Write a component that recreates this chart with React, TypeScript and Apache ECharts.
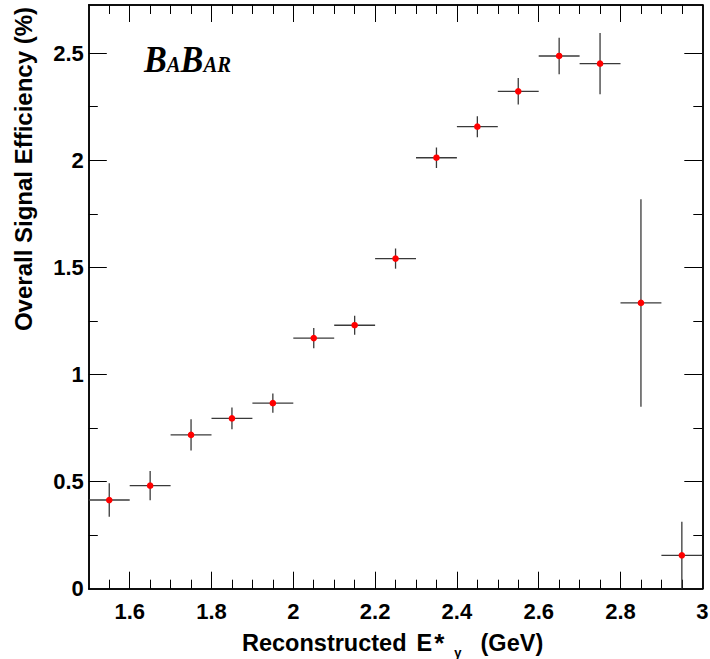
import React, { useEffect, useRef } from "react";
import * as echarts from "echarts";

// ---- data ----
const binCenters = [1.55, 1.65, 1.75, 1.85, 1.95, 2.05, 2.15, 2.25, 2.35, 2.45, 2.55, 2.65, 2.75, 2.85, 2.95];
const binHalfWidth = 0.05;
const efficiency = [0.414, 0.481, 0.718, 0.795, 0.866, 1.17, 1.23, 1.541, 2.012, 2.157, 2.322, 2.487, 2.451, 1.334, 0.156];
const efficiencyErr = [0.078, 0.068, 0.073, 0.051, 0.045, 0.047, 0.044, 0.047, 0.048, 0.049, 0.062, 0.085, 0.143, 0.484, 0.157];

const xMin = 1.5;
const xMax = 3.0;
const yMin = 0;
const yMax = 2.725;
const xTickLabels = [1.6, 1.8, 2, 2.2, 2.4, 2.6, 2.8, 3];
const xMajorTicks = [1.6, 1.8, 2, 2.2, 2.4, 2.6, 2.8];
const xMinorTicks = [1.55, 1.6, 1.65, 1.7, 1.75, 1.8, 1.85, 1.9, 1.95, 2, 2.05, 2.1, 2.15, 2.2, 2.25, 2.3, 2.35, 2.4, 2.45, 2.5, 2.55, 2.6, 2.65, 2.7, 2.75, 2.8, 2.85, 2.9, 2.95];
const yTickLabels = [0, 0.5, 1, 1.5, 2, 2.5];
const yMajorTicks = [0.5, 1, 1.5, 2, 2.5];
const yMinorTicks = [0.25, 0.75, 1.25, 1.75, 2.25];

const xTitleMain = "Reconstructed";
const xTitleVar = "E";
const xTitleStar = "*";
const xTitleSub = "γ";
const xTitleUnit = "(GeV)";
const yTitle = "Overall Signal Efficiency (%)";

const FONT = "'Liberation Sans', Arial, Helvetica, sans-serif";
const SERIF = "'Liberation Serif', 'Times New Roman', serif";

function makeXAxis(position: "bottom" | "top", ticks: number[], len: number, labels: boolean) {
  return {
    type: "value",
    position,
    min: xMin,
    max: xMax,
    axisLine: { show: true, onZero: false, lineStyle: { color: "#000", width: 1.5 } },
    axisTick: { show: true, inside: true, length: len, customValues: ticks, lineStyle: { color: "#000", width: 1 } },
    axisLabel: labels
      ? {
          show: true,
          customValues: xTickLabels,
          margin: 12,
          fontFamily: FONT,
          fontWeight: "bold",
          fontSize: 22,
          color: "#000",
          formatter: (v: number) => String(Math.round(v * 10) / 10),
        }
      : { show: false },
    splitLine: { show: false },
  };
}

function makeYAxis(position: "left" | "right", ticks: number[], len: number, labels: boolean) {
  return {
    type: "value",
    position,
    min: yMin,
    max: yMax,
    axisLine: { show: true, onZero: false, lineStyle: { color: "#000", width: 1.5 } },
    axisTick: { show: true, inside: true, length: len, customValues: ticks, lineStyle: { color: "#000", width: 1 } },
    axisLabel: labels
      ? {
          show: true,
          customValues: yTickLabels,
          margin: 5,
          fontFamily: FONT,
          fontWeight: "bold",
          fontSize: 22,
          color: "#000",
          formatter: (v: number) => String(Math.round(v * 10) / 10),
        }
      : { show: false },
    splitLine: { show: false },
  };
}

export default function App() {
  const ref = useRef<HTMLDivElement>(null);

  useEffect(() => {
    if (!ref.current) return;
    const chart = echarts.init(ref.current, undefined, { renderer: "svg" });
    const data = binCenters.map((x, i) => [x, efficiency[i], efficiencyErr[i]]);

    const bigB = { fontFamily: SERIF, fontWeight: "bold", fontStyle: "italic", fontSize: 38, fill: "#000", verticalAlign: "bottom" };
    const smallL = { fontFamily: SERIF, fontWeight: "bold", fontStyle: "italic", fontSize: 23, fill: "#000", verticalAlign: "bottom", padding: [0, 0, 2, 0] };
    const titleFont = { fontFamily: FONT, fontWeight: "bold", fontSize: 23.5, fill: "#000" };

    const option: any = {
      animation: false,
      backgroundColor: "#fff",
      grid: { left: 88.8, right: 7.7, top: 5, bottom: 70.3, outerBoundsMode: "none", containLabel: false },
      xAxis: [
        makeXAxis("bottom", xMajorTicks, 17, true),
        makeXAxis("bottom", xMinorTicks, 9, false),
        makeXAxis("top", xMajorTicks, 17, false),
        makeXAxis("top", xMinorTicks, 9, false),
      ],
      yAxis: [
        makeYAxis("left", yMajorTicks, 18, true),
        makeYAxis("left", yMinorTicks, 9, false),
        makeYAxis("right", yMajorTicks, 18, false),
        makeYAxis("right", yMinorTicks, 9, false),
      ],
      series: [
        {
          type: "custom",
          xAxisIndex: 0,
          yAxisIndex: 0,
          data,
          encode: { x: 0, y: 1 },
          clip: true,
          renderItem: (params: any, api: any) => {
            const x = api.value(0);
            const y = api.value(1);
            const e = api.value(2);
            const pL = api.coord([x - binHalfWidth, y]);
            const pR = api.coord([x + binHalfWidth, y]);
            const pT = api.coord([x, y + e]);
            const pB = api.coord([x, Math.max(yMin, y - e)]);
            const c = api.coord([x, y]);
            const st = { stroke: "#3a3a3a", lineWidth: 1.3 };
            return {
              type: "group",
              children: [
                { type: "line", shape: { x1: pL[0], y1: pL[1], x2: pR[0], y2: pR[1] }, style: st },
                { type: "line", shape: { x1: pT[0], y1: pT[1], x2: pB[0], y2: pB[1] }, style: st },
                { type: "circle", shape: { cx: c[0], cy: c[1], r: 3.3 }, style: { fill: "#ff0000" } },
              ],
            };
          },
        },
      ],
      graphic: [
        {
          type: "text",
          x: 242,
          y: 643,
          style: {
            text: `{a|${xTitleMain}}{e|${xTitleVar}}{t|${xTitleStar}}{s|${xTitleSub}}{u|${xTitleUnit}}`,
            align: "left",
            verticalAlign: "middle",
            rich: {
              a: titleFont,
              e: { ...titleFont, padding: [0, 0, 0, 10] },
              t: { ...titleFont, fontSize: 26, padding: [0, 0, 0, 2] },
              s: { fontFamily: FONT, fontWeight: "bold", fontSize: 13, fill: "#000", padding: [18, 0, 0, 10] },
              u: { ...titleFont, padding: [0, 0, 0, 19] },
            },
          },
        },
        {
          type: "text",
          x: 23,
          y: 169,
          rotation: Math.PI / 2,
          style: {
            text: yTitle,
            align: "center",
            verticalAlign: "middle",
            fontFamily: FONT,
            fontWeight: "bold",
            fontSize: 24,
            fill: "#000",
          },
        },
        {
          type: "text",
          x: 144,
          y: 59,
          scaleX: 0.9,
          style: {
            text: "{b|B}{a|A}{b|B}{a|AR}",
            align: "left",
            verticalAlign: "middle",
            rich: { b: bigB, a: smallL },
          },
        },
      ],
    };
    chart.setOption(option);
    return () => chart.dispose();
  }, []);

  return (
    <div
      ref={ref}
      style={{ position: "fixed", left: 0, top: 0, width: 710, height: 659, background: "#fff" }}
    />
  );
}
